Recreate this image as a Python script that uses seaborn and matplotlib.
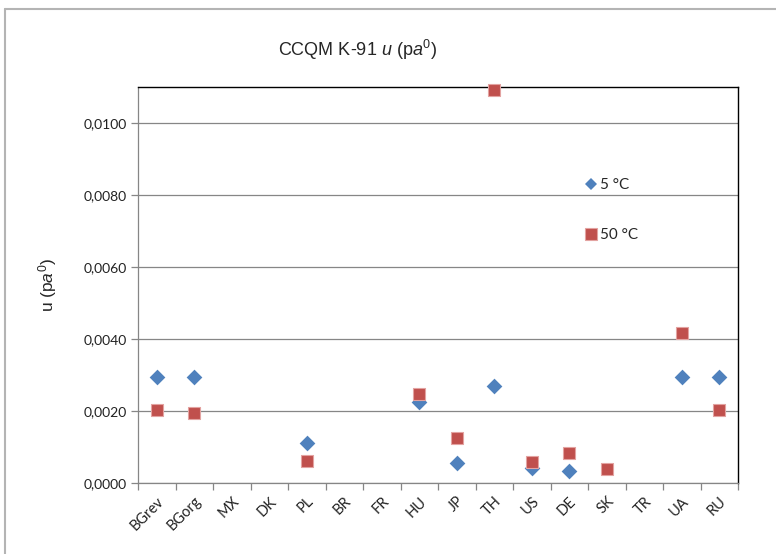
import numpy as np
import pandas as pd
import matplotlib
matplotlib.use("Agg")
import matplotlib.pyplot as plt
import matplotlib.transforms as mtransforms
from matplotlib.lines import Line2D
from matplotlib.ticker import FuncFormatter, FixedLocator
import seaborn as sns

# Participating laboratories (CCQM K-91)
labs = ["BGrev", "BGorg", "MX", "DK", "PL", "BR", "FR", "HU",
        "JP", "TH", "US", "DE", "SK", "TR", "UA", "RU"]

# Standard uncertainty u(pa0) at 5 °C
u_5C = [0.00295, 0.00295, np.nan, np.nan, 0.00111, np.nan, np.nan, 0.00225,
        0.00056, 0.00270, 0.00042, 0.00033, np.nan, np.nan, 0.00295, 0.00295]

# Standard uncertainty u(pa0) at 50 °C
u_50C = [0.00203, 0.00194, np.nan, np.nan, 0.00061, np.nan, np.nan, 0.00247,
         0.00125, 0.01093, 0.00057, 0.00083, 0.00039, np.nan, 0.00417, 0.00203]

series_labels = ["5 °C", "50 °C"]
yticks = [0.0, 0.002, 0.004, 0.006, 0.008, 0.010]

df = pd.DataFrame({"lab": labs, "u5": u_5C, "u50": u_50C})

sns.set_style("white")
plt.rcParams["font.family"] = ["Lato", "DejaVu Sans"]
plt.rcParams["mathtext.fontset"] = "custom"
plt.rcParams["mathtext.rm"] = "Liberation Sans"
plt.rcParams["mathtext.it"] = "Liberation Sans:italic"

fig = plt.figure(figsize=(7.76, 5.54), dpi=100)
ax = fig.add_axes([138 / 776, 71 / 554, 600 / 776, 396 / 554])

blue = "#4F81BD"
red = "#C0504D"
red_edge = "#E3A3A1"

sns.stripplot(data=df, x="lab", y="u5", order=labs, jitter=False, marker="D",
              color=blue, size=8.0, linewidth=0, ax=ax, zorder=3)
sns.stripplot(data=df, x="lab", y="u50", order=labs, jitter=False, marker="s",
              color=red, size=9.0, linewidth=0.8, edgecolor=red_edge, ax=ax, zorder=3)
for coll in ax.collections:
    coll.set_clip_on(False)

ax.set_xlim(-0.5, len(labs) - 0.5)
ax.set_ylim(0, 0.011)

# Horizontal gridlines and y ticks
ax.set_yticks(yticks)
ax.yaxis.set_major_formatter(FuncFormatter(lambda v, p: f"{v:.4f}".replace(".", ",")))
ax.grid(axis="y", color="#868686", linewidth=0.9)
ax.grid(axis="x", visible=False)
ax.set_axisbelow(True)

# Category boundaries carry the ticks; labels sit at the category centres
ax.xaxis.set_major_locator(FixedLocator(np.arange(-0.5, len(labs), 1.0)))
ax.xaxis.set_major_formatter(FuncFormatter(lambda v, p: ""))
ax.xaxis.set_minor_locator(FixedLocator(np.arange(len(labs))))
ax.set_xticklabels(labs, minor=True, rotation=45, ha="right",
                   rotation_mode="anchor", fontsize=10.5, color="#222222")
shift = mtransforms.ScaledTranslation(7 / 100, 0, fig.dpi_scale_trans)
for lbl in ax.get_xticklabels(minor=True):
    lbl.set_transform(lbl.get_transform() + shift)
ax.tick_params(axis="x", which="major", length=5, width=0.9, color="#868686",
               direction="out", bottom=True)
ax.tick_params(axis="x", which="minor", length=0, pad=8)
ax.tick_params(axis="y", which="major", length=5, width=0.9, color="#868686",
               direction="out", left=True, labelsize=10, labelcolor="#222222", pad=3)

for side in ["left", "bottom"]:
    ax.spines[side].set_color("#868686")
    ax.spines[side].set_linewidth(0.9)
for side in ["top", "right"]:
    ax.spines[side].set_color("#000000")
    ax.spines[side].set_linewidth(1.0)

ax.set_xlabel("")
ax.set_ylabel(r"u (p$\it{a}^0$)", fontsize=12.5, family="Liberation Sans", labelpad=18)

handles = [
    Line2D([], [], linestyle="none", marker="D", markersize=6.5, color=blue, markeredgewidth=0),
    Line2D([], [], linestyle="none", marker="s", markersize=9, color=red,
           markeredgecolor=red_edge, markeredgewidth=0.8),
]
ax.legend(handles, series_labels, loc="upper left", bbox_to_anchor=(0.735, 0.785),
          frameon=False, fontsize=11, labelspacing=2.35, handlelength=0.8,
          handletextpad=0.15, borderaxespad=0)

fig.text(358 / 776, 1 - 50 / 554, r"CCQM K-91 $\it{u}$ (p$\it{a}^0$)",
         ha="center", va="center", fontsize=13, family="Liberation Sans")

# Chart area frame (top and left edges)
frame_kw = dict(transform=fig.transFigure, color="#B4B4B4", linewidth=1.5)
fig.lines.append(Line2D([4.5 / 776, 1.0], [1 - 8.5 / 554, 1 - 8.5 / 554], **frame_kw))
fig.lines.append(Line2D([4.5 / 776, 4.5 / 776], [0.0, 1 - 8.5 / 554], **frame_kw))

fig.savefig("out.png", dpi=100)
